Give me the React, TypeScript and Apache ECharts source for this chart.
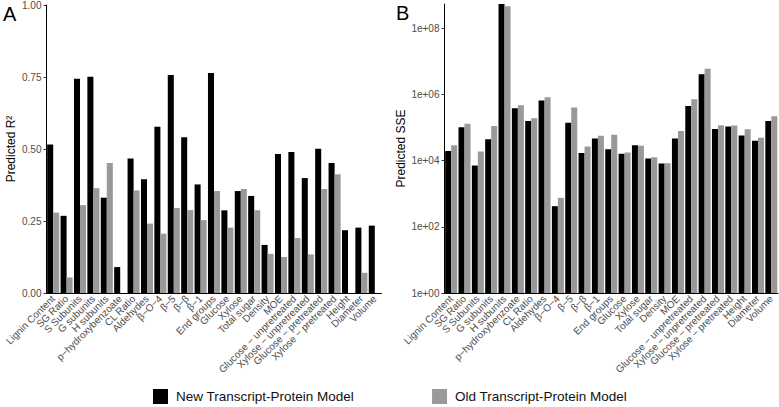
import React, { useEffect, useRef } from "react";
import * as echarts from "echarts";

const categories = [
  "Lignin Content", "SG Ratio", "S Subunits", "G subunits", "H subunits",
  "p−hydroxybenzoate", "CL Ratio", "Aldehydes", "β−O−4", "β−5", "β−β", "β−1",
  "End groups", "Glucose", "Xylose", "Total sugar", "Density", "MOE",
  "Glucose − unpretreated", "Xylose − unpretreated", "Glucose − pretreated",
  "Xylose − pretreated", "Height", "Diameter", "Volume",
];

const seriesNames = ["New Transcript-Protein Model", "Old Transcript-Protein Model"];

// Panel A: predicted R^2
const r2New = [
  0.516, 0.268, 0.744, 0.751, 0.331, 0.09, 0.467, 0.395, 0.577, 0.757, 0.541, 0.377,
  0.764, 0.287, 0.354, 0.337, 0.167, 0.483, 0.49, 0.399, 0.501, 0.451, 0.218, 0.227, 0.234,
];
const r2Old = [
  0.279, 0.054, 0.305, 0.364, 0.451, 0, 0.356, 0.241, 0.206, 0.295, 0.288, 0.253,
  0.354, 0.227, 0.361, 0.287, 0.136, 0.125, 0.191, 0.134, 0.361, 0.412, 0, 0.07, 0,
];

// Panel B: predicted SSE
const sseNew = [
  1.96e4, 1.02e5, 7.1e3, 4.4e4, 5.4e8, 3.8e5, 1.58e5, 6.6e5, 4.2e2, 1.4e5, 1.7e4, 4.7e4,
  2.2e4, 1.6e4, 2.9e4, 1.15e4, 8.2e3, 4.7e4, 4.5e5, 4.1e6, 9.1e4, 1.07e5, 5.7e4, 4.0e4, 1.58e5,
];
const sseOld = [
  2.9e4, 1.3e5, 1.9e4, 1.12e5, 4.6e8, 4.7e5, 1.9e5, 8.2e5, 7.5e2, 4.0e5, 2.65e4, 5.6e4,
  6.1e4, 1.75e4, 2.8e4, 1.26e4, 8.3e3, 7.9e4, 7.1e5, 6.0e6, 1.17e5, 1.15e5, 8.9e4, 4.9e4, 2.2e5,
];

const r2Ticks = [0, 0.25, 0.5, 0.75, 1];
const sseTicks = [1, 1e2, 1e4, 1e6, 1e8];

const FONT = "'Liberation Sans', Arial, Helvetica, sans-serif";
const colors = ["#000000", "#999999"];

export default function App() {
  const ref = useRef<HTMLDivElement>(null);
  useEffect(() => {
    if (!ref.current) return;
    const chart = echarts.init(ref.current, undefined, { renderer: "svg" });
    const xAxisBase = (gridIndex: number) => ({
      type: "category" as const,
      gridIndex,
      data: categories,
      axisLine: { lineStyle: { color: "#000", width: 1 } },
      axisTick: { alignWithLabel: true, length: 3, lineStyle: { color: "#333" } },
      axisLabel: {
        interval: 0,
        rotate: 45,
        fontSize: 10,
        color: "#4d4d4d",
        fontFamily: FONT,
        margin: 4,
      },
    });
    const fmtSSE = (v: number) => {
      const e = Math.round(Math.log10(v));
      return "1e+" + String(e).padStart(2, "0");
    };
    chart.setOption({
      animation: false,
      textStyle: { fontFamily: FONT },
      grid: [
        { left: 46.5, top: 4, width: 335, height: 289 },
        { left: 444.5, top: 4, width: 333.5, height: 289 },
      ],
      legend: {
        data: seriesNames,
        left: 153,
        top: 389,
        padding: 0,
        icon: "rect",
        itemWidth: 15,
        itemHeight: 15,
        itemGap: 78,
        textStyle: { fontSize: 13.5, lineHeight: 15, color: "#111", fontFamily: FONT, padding: [0, 0, 0, 3] },
      },
      graphic: [
        { type: "text", left: 3, top: 4, style: { text: "A", fontSize: 20, fontFamily: FONT, fill: "#000" } },
        { type: "text", left: 396, top: 3, style: { text: "B", fontSize: 20, fontFamily: FONT, fill: "#000" } },
      ],
      xAxis: [xAxisBase(0), xAxisBase(1)],
      yAxis: [
        {
          type: "value",
          gridIndex: 0,
          min: 0,
          max: 1,
          interval: 0.25,
          name: "Predicted R²",
          nameLocation: "middle",
          nameGap: 30,
          nameTextStyle: { fontSize: 12, color: "#000", fontFamily: FONT },
          splitLine: { show: false },
          axisLine: { show: true, lineStyle: { color: "#000", width: 1 } },
          axisTick: { show: true, length: 3, lineStyle: { color: "#333" }, customValues: r2Ticks },
          axisLabel: {
            fontSize: 10,
            color: "#4d4d4d",
            fontFamily: FONT,
            margin: 5,
            customValues: r2Ticks,
            formatter: (v: number) => v.toFixed(2),
          },
        },
        {
          type: "log",
          gridIndex: 1,
          logBase: 10,
          min: 1,
          max: 5.4e8,
          name: "Predicted SSE",
          nameLocation: "middle",
          nameGap: 38,
          nameTextStyle: { fontSize: 12, color: "#000", fontFamily: FONT },
          splitLine: { show: false },
          axisLine: { show: true, lineStyle: { color: "#000", width: 1 } },
          axisTick: { show: true, length: 3, lineStyle: { color: "#333" }, customValues: sseTicks },
          axisLabel: {
            fontSize: 10,
            color: "#4d4d4d",
            fontFamily: FONT,
            margin: 5,
            customValues: sseTicks,
            formatter: fmtSSE,
          },
        },
      ],
      series: [
        { name: seriesNames[0], type: "bar", xAxisIndex: 0, yAxisIndex: 0, data: r2New, itemStyle: { color: colors[0] }, barGap: "0%", barCategoryGap: "10%" },
        { name: seriesNames[1], type: "bar", xAxisIndex: 0, yAxisIndex: 0, data: r2Old, itemStyle: { color: colors[1] }, barGap: "0%", barCategoryGap: "10%" },
        { name: seriesNames[0], type: "bar", xAxisIndex: 1, yAxisIndex: 1, data: sseNew, itemStyle: { color: colors[0] }, barGap: "0%", barCategoryGap: "10%" },
        { name: seriesNames[1], type: "bar", xAxisIndex: 1, yAxisIndex: 1, data: sseOld, itemStyle: { color: colors[1] }, barGap: "0%", barCategoryGap: "10%" },
      ],
    });
    return () => chart.dispose();
  }, []);
  return (
    <div
      ref={ref}
      style={{ position: "fixed", left: 0, top: 0, width: 779, height: 407, background: "#fff" }}
    />
  );
}
